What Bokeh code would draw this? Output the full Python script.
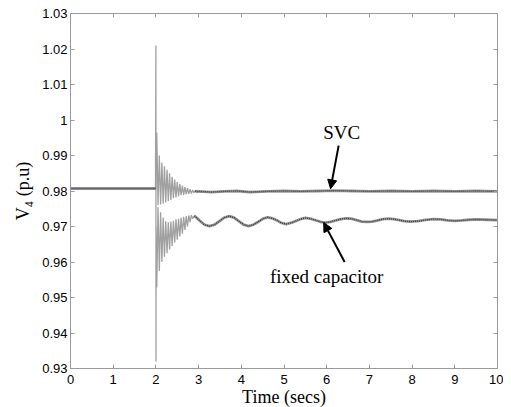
from bokeh.plotting import figure
from bokeh.models import LinearAxis, Range1d, Arrow, NormalHead, Label, FixedTicker
from bokeh.embed import file_html
from bokeh.resources import INLINE

# ---- data ----
x_ticks = [0, 1, 2, 3, 4, 5, 6, 7, 8, 9, 10]
y_ticks = [0.93, 0.94, 0.95, 0.96, 0.97, 0.98, 0.99, 1.0, 1.01, 1.02, 1.03]
y_tick_labels = {0.93: "0.93", 0.94: "0.94", 0.95: "0.95", 0.96: "0.96", 0.97: "0.97",
                 0.98: "0.98", 0.99: "0.99", 1.0: "1", 1.01: "1.01", 1.02: "1.02", 1.03: "1.03"}

svc_t = [0.0, 0.5, 1.0, 1.5, 1.99, 2.0, 2.02, 2.05, 2.08, 2.11, 2.14, 2.17, 2.20, 2.23, 2.26,
         2.29, 2.32, 2.35, 2.38, 2.41, 2.44, 2.47, 2.50, 2.53, 2.56, 2.59, 2.62, 2.65, 2.68,
         2.71, 2.74, 2.77, 2.80, 2.83, 2.86, 2.89, 2.92, 2.95, 3.0, 3.3, 3.6, 3.9, 4.2, 4.6,
         5.0, 5.4, 5.8, 6.2, 6.6, 7.0, 7.5, 8.0, 8.5, 9.0, 9.5, 10.0]
svc_v = [0.9807, 0.9807, 0.9807, 0.9807, 0.9807, 0.9807, 0.9965, 0.9760, 0.9900, 0.9762,
         0.9880, 0.9765, 0.9870, 0.9768, 0.9860, 0.9772, 0.9850, 0.9775, 0.9840, 0.9780,
         0.9832, 0.9782, 0.9825, 0.9785, 0.9820, 0.9788, 0.9815, 0.9789, 0.9811, 0.9791,
         0.9808, 0.9792, 0.9805, 0.9793, 0.9803, 0.9795, 0.9801, 0.9798, 0.9799, 0.9797,
         0.9799, 0.9800, 0.9797, 0.9799, 0.9800, 0.9799, 0.9800, 0.9801, 0.9800, 0.9799,
         0.9800, 0.9799, 0.9800, 0.9799, 0.9800, 0.9799]

cap_t = [0.0, 0.5, 1.0, 1.5, 1.99, 2.0, 2.002, 2.005, 2.02, 2.05, 2.08, 2.11, 2.14, 2.17,
         2.20, 2.23, 2.26, 2.29, 2.32, 2.35, 2.38, 2.41, 2.44, 2.47, 2.50, 2.53, 2.56, 2.59,
         2.62, 2.65, 2.68, 2.71, 2.74, 2.77, 2.80, 2.83, 2.86, 2.90,
         2.96, 3.03, 3.14, 3.25, 3.37, 3.49, 3.60, 3.72, 3.83, 3.94, 4.06, 4.17, 4.28, 4.40,
         4.51, 4.62, 4.73, 4.84, 4.94, 5.05, 5.16, 5.28, 5.39, 5.50, 5.62, 5.74, 5.86, 5.97,
         6.09, 6.21, 6.33, 6.45, 6.57, 6.70, 6.82, 6.95, 7.07, 7.20, 7.32, 7.45, 7.57, 7.70,
         7.82, 7.95, 8.14, 8.32, 8.50, 8.67, 8.83, 9.00, 9.17, 9.33, 9.50, 9.75, 10.0]
cap_v = [0.9807, 0.9807, 0.9807, 0.9807, 0.9807, 1.0210, 0.9320, 0.9700, 0.9528, 0.9755,
         0.9575, 0.9740, 0.9600, 0.9725, 0.9615, 0.9715, 0.9625, 0.9712, 0.9635, 0.9714,
         0.9645, 0.9716, 0.9655, 0.9720, 0.9663, 0.9722, 0.9672, 0.9725, 0.9680, 0.9727,
         0.9690, 0.9729, 0.9700, 0.9731, 0.9712, 0.9732, 0.9722, 0.9730,
         0.9724, 0.9716, 0.9705, 0.9701, 0.9705, 0.9715, 0.9725, 0.9729, 0.9725, 0.9715,
         0.9705, 0.9701, 0.9705, 0.97135, 0.9722, 0.9726, 0.9723, 0.9717, 0.9710, 0.9707,
         0.9710, 0.97155, 0.9721, 0.9724, 0.9722, 0.97175, 0.9713, 0.9711,
         0.9713, 0.9717, 0.9721, 0.9723, 0.9722, 0.9718, 0.9714, 0.9713, 0.9714, 0.97175,
         0.9721, 0.9722, 0.9721, 0.9718, 0.9715, 0.9714, 0.9715, 0.97185, 0.9721, 0.9720,
         0.97175, 0.9716, 0.9717, 0.9719, 0.9720, 0.9719, 0.9718]

svc_label = ("SVC", 6.35, 0.9965)
svc_arrow = (6.28, 0.9928, 6.09, 0.9806)
cap_label = ("fixed capacitor", 6.0, 0.9560)
cap_arrow = (6.42, 0.9600, 5.93, 0.9711)

p = figure(frame_width=427, frame_height=355, output_backend="svg", toolbar_location=None,
           x_range=Range1d(0, 10), y_range=Range1d(0.93, 1.03),
           min_border_left=70, min_border_top=13, min_border_right=6, min_border_bottom=0,
           background_fill_color="white", border_fill_color="white")
p.outline_line_color = "#9a9a9a"
p.grid.visible = False

# thin trace for the whole record (gives the grey transient band)
for t, v in ((svc_t, svc_v), (cap_t, cap_v)):
    p.line(t, v, line_color="#a0a0a0", line_width=1.3)

# textured thick trace where the signal is steady
def steady(t, v, t0):
    pre = [(a, b) for a, b in zip(t, v) if a < 2.0]
    post = [(a, b) for a, b in zip(t, v) if a >= t0]
    return pre, post

for t, v, t0 in ((svc_t, svc_v, 2.92), (cap_t, cap_v, 2.90)):
    for seg in steady(t, v, t0):
        st = [a for a, _ in seg]
        sv = [b for _, b in seg]
        p.line(st, sv, line_color="#9a9a9a", line_width=2.8)
        p.line(st, sv, line_color="#3a3a3a", line_width=1.4, line_dash="1 1")

for ax in p.xaxis + p.yaxis:
    ax.major_tick_in = 4
    ax.major_tick_out = 0
    ax.minor_tick_line_color = None
    ax.axis_line_color = "#9a9a9a"
    ax.major_tick_line_color = "#9a9a9a"
    ax.major_label_text_font = "Liberation Sans"
    ax.major_label_text_font_size = "13px"
    ax.major_label_text_color = "black"
    ax.axis_label_text_font = "Liberation Serif"
    ax.axis_label_text_font_size = "18px"
    ax.axis_label_text_font_style = "normal"
    ax.axis_label_text_color = "black"

p.xaxis.ticker = FixedTicker(ticks=x_ticks)
p.yaxis.ticker = FixedTicker(ticks=y_ticks)
p.yaxis.major_label_overrides = y_tick_labels
p.xaxis.axis_label = "Time (secs)"
p.yaxis.axis_label = "V\u2084 (p.u)"
p.xaxis.major_label_standoff = 6
p.xaxis.axis_label_standoff = 0
p.yaxis.major_label_standoff = 3
p.yaxis.axis_label_standoff = 6

top = LinearAxis(ticker=FixedTicker(ticks=x_ticks), major_label_overrides={t: "" for t in x_ticks},
                 major_tick_in=4, major_tick_out=0, minor_tick_line_color=None,
                 axis_line_color="#9a9a9a", major_tick_line_color="#9a9a9a", major_label_standoff=0)
right = LinearAxis(ticker=FixedTicker(ticks=y_ticks), major_label_overrides={t: "" for t in y_ticks},
                   major_tick_in=4, major_tick_out=0, minor_tick_line_color=None,
                   axis_line_color="#9a9a9a", major_tick_line_color="#9a9a9a", major_label_standoff=0)
p.add_layout(top, "above")
p.add_layout(right, "right")

for (txt, lx, ly), (x0, y0, x1, y1) in ((svc_label, svc_arrow), (cap_label, cap_arrow)):
    p.add_layout(Label(x=lx, y=ly, text=txt, text_font="Liberation Serif", text_font_size="19px",
                       text_align="center", text_baseline="middle", text_color="black"))
    p.add_layout(Arrow(x_start=x0, y_start=y0, x_end=x1, y_end=y1, line_width=2, line_color="black",
                       end=NormalHead(size=9, fill_color="black", line_color="black")))

open("out.html", "w").write(file_html(p, INLINE))
